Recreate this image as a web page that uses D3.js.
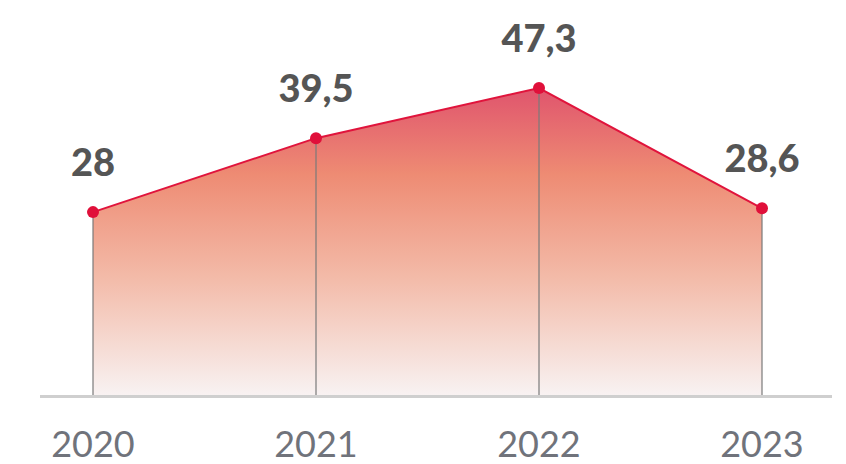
<!DOCTYPE html>
<html><head><meta charset="utf-8">
<script src="https://cdn.jsdelivr.net/npm/d3@7"></script>
<style>html,body{margin:0;padding:0;background:#fff}</style>
</head><body>
<script>
const years = ["2020","2021","2022","2023"];
const values = [28, 39.5, 47.3, 28.6];
const labels = ["28","39,5","47,3","28,6"];

const W = 846, H = 464;
const svg = d3.select("body").append("svg").attr("width", W).attr("height", H);

const x = d3.scalePoint().domain(years).range([93, 762]);
const y = d3.scaleLinear().domain([0, 47.3]).range([392.2, 88]);
const baseY = 395;

const defs = svg.append("defs");
const grad = defs.append("linearGradient").attr("id","g").attr("gradientUnits","userSpaceOnUse")
  .attr("x1",0).attr("x2",0).attr("y1",y(47.3)).attr("y2",baseY);
[[0,"#e0546d"],[0.28,"#ee8b73"],[0.62,"#f3bba9"],[1,"#f8f2f2"]].forEach(([o,c])=>
  grad.append("stop").attr("offset",o).attr("stop-color",c));

const data = years.map((yr,i)=>({yr, v: values[i], l: labels[i]}));

svg.append("path").datum(data)
  .attr("d", d3.area().x(d=>x(d.yr)).y0(baseY).y1(d=>y(d.v)))
  .attr("fill","url(#g)");

svg.selectAll(".vl").data(data).enter().append("line")
  .attr("x1",d=>x(d.yr)).attr("x2",d=>x(d.yr))
  .attr("y1",d=>y(d.v)).attr("y2",baseY)
  .attr("stroke","#7a7a7a").attr("stroke-width",1.2);

svg.append("line").attr("x1",40).attr("x2",832).attr("y1",396.5).attr("y2",396.5)
  .attr("stroke","#cfcfcf").attr("stroke-width",3);

svg.append("path").datum(data)
  .attr("d", d3.line().x(d=>x(d.yr)).y(d=>y(d.v)))
  .attr("fill","none").attr("stroke","#e0143c").attr("stroke-width",2);

svg.selectAll(".dot").data(data).enter().append("circle")
  .attr("cx",d=>x(d.yr)).attr("cy",d=>y(d.v)).attr("r",6)
  .attr("fill","#e0103a");

svg.selectAll(".val").data(data).enter().append("text")
  .attr("x",d=>x(d.yr)).attr("y",d=>y(d.v)-36)
  .attr("text-anchor","middle")
  .attr("font-family","Lato, 'Open Sans', sans-serif").attr("font-weight",900)
  .attr("font-size",38).attr("fill","#555555")
  .text(d=>d.l);

svg.selectAll(".yr").data(data).enter().append("text")
  .attr("x",d=>x(d.yr)).attr("y",457)
  .attr("text-anchor","middle")
  .attr("font-family","Lato, sans-serif").attr("font-weight",400)
  .attr("font-size",36).attr("fill","#70737b")
  .text(d=>d.yr);
</script>
</body></html>
